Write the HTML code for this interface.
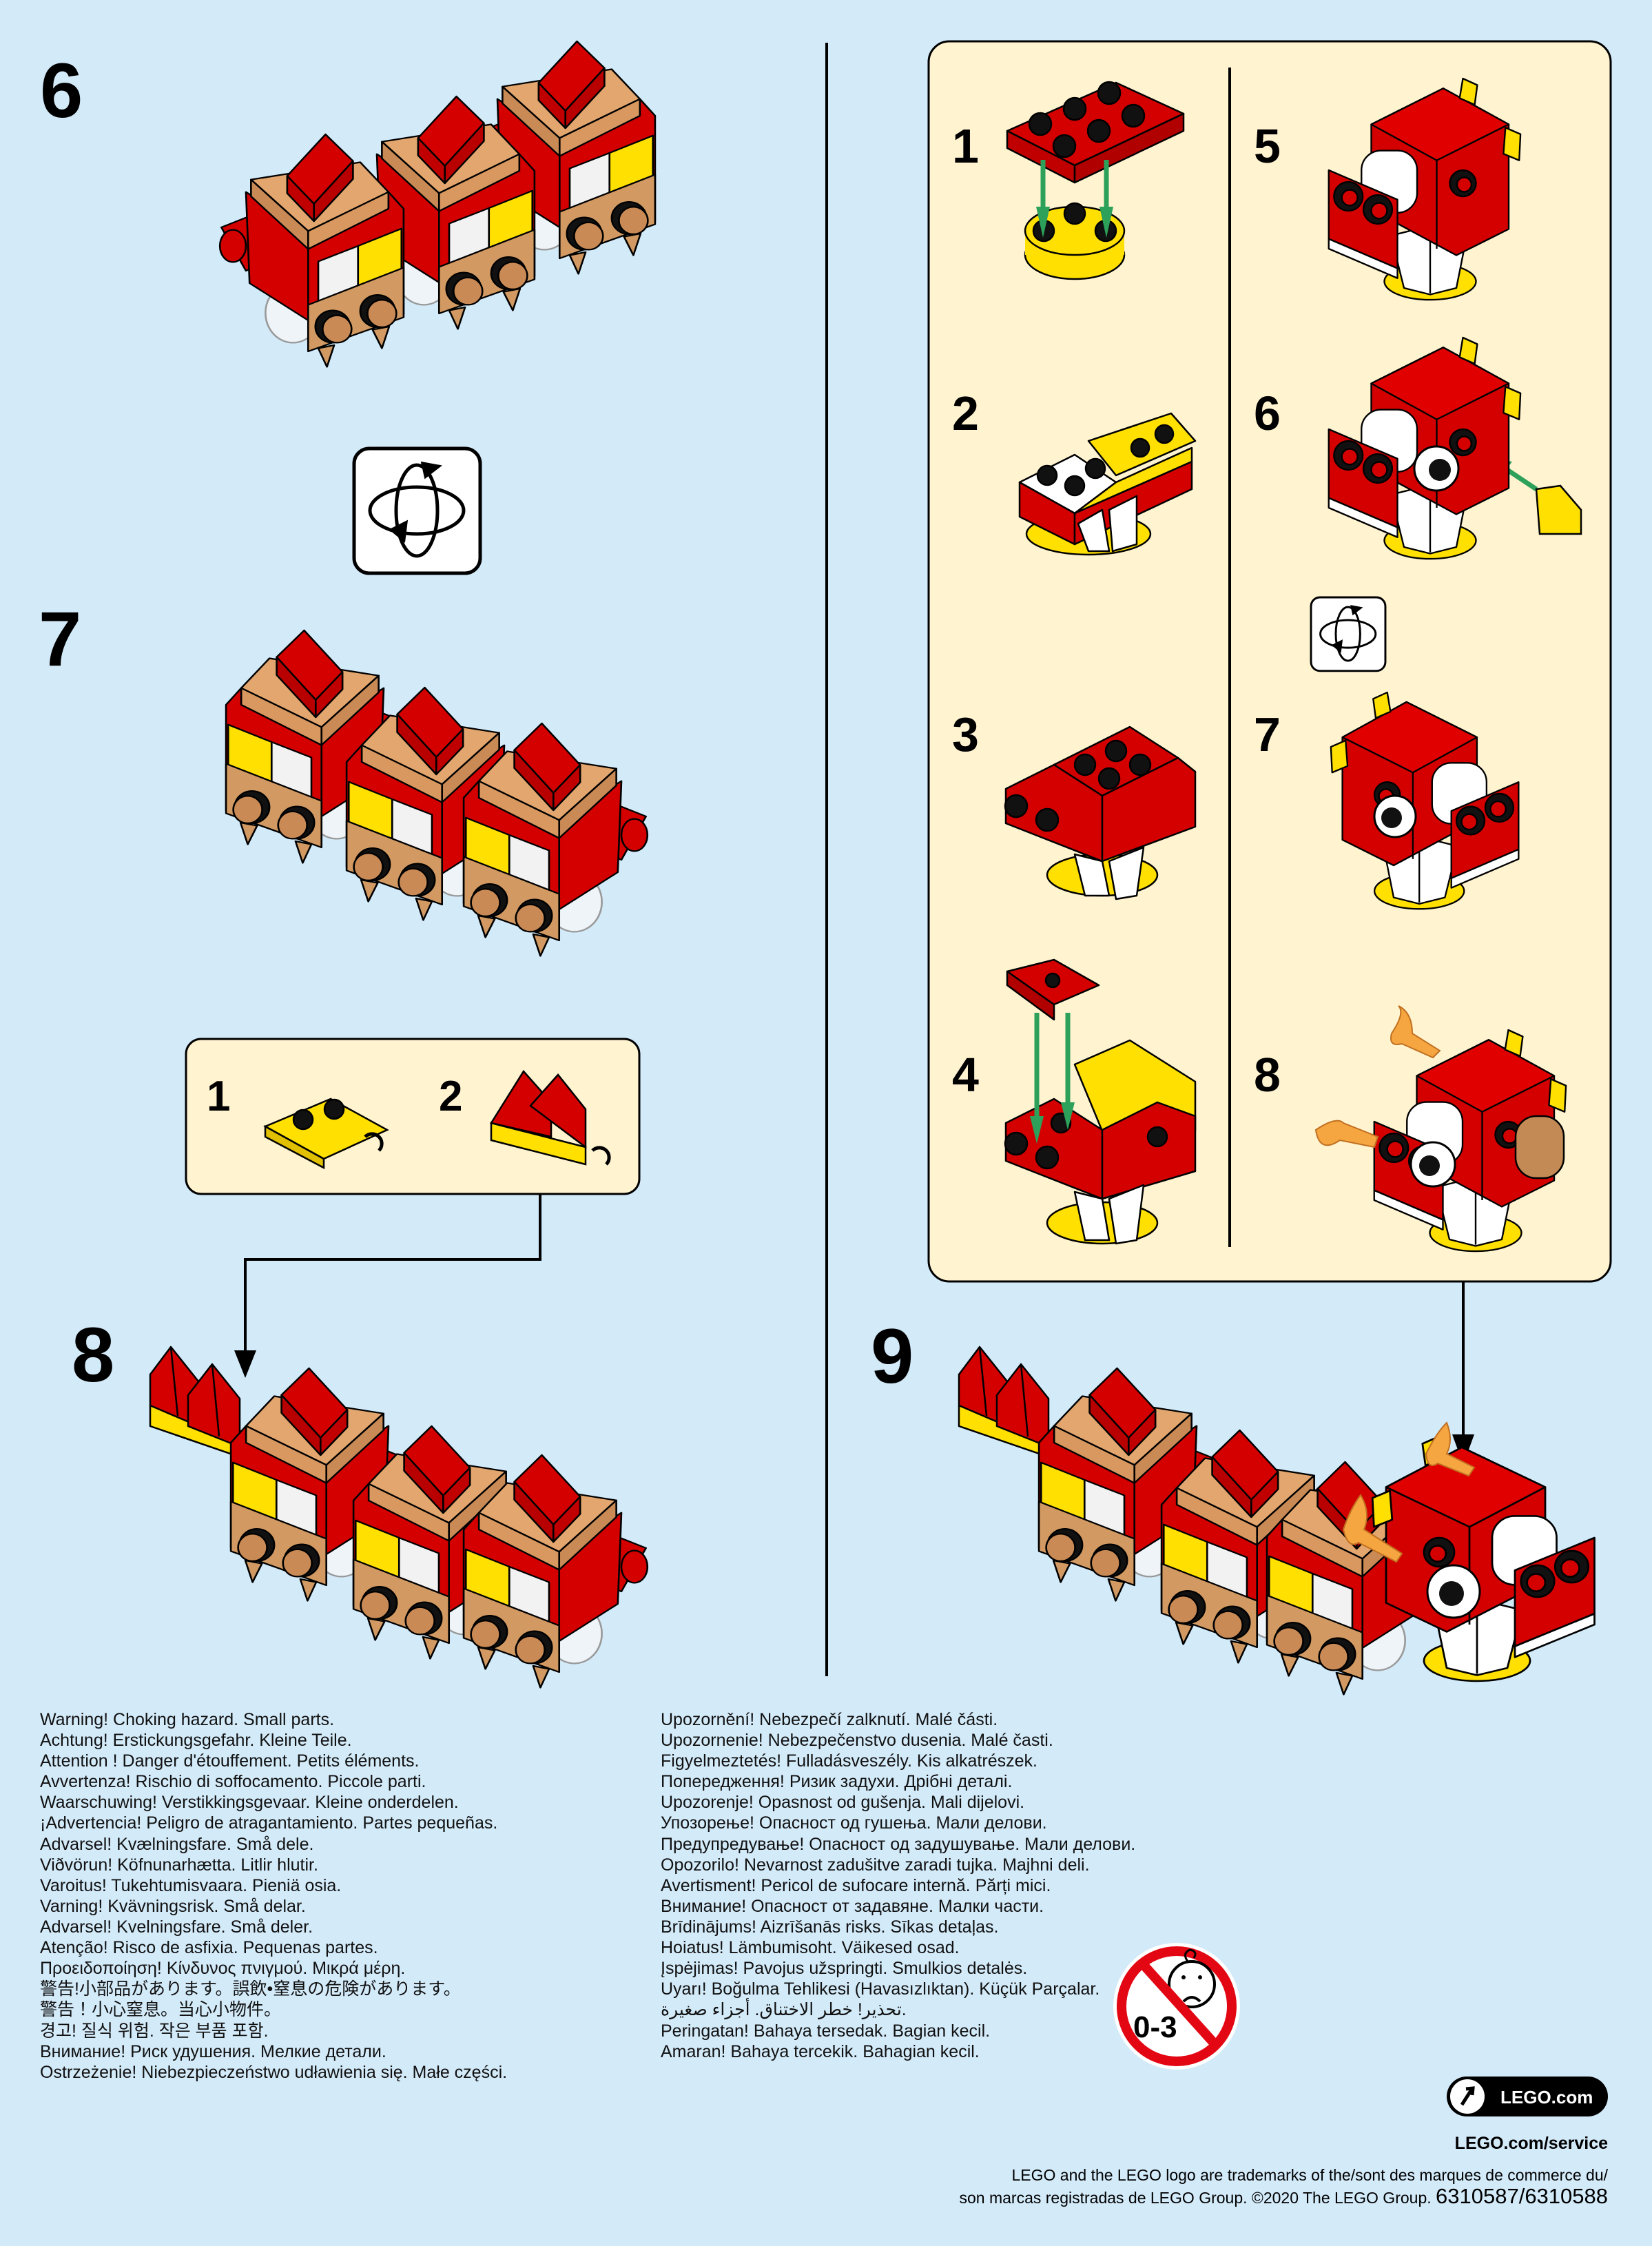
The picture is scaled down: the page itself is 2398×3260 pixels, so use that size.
<!DOCTYPE html>
<html><head><meta charset="utf-8">
<style>
html,body{margin:0;padding:0;background:#d3eaf9;}
svg{display:block;}
text{font-family:"Liberation Sans","Noto Sans CJK JP",sans-serif;}
.n{font-weight:bold;fill:#000;}
.w{font-size:25px;fill:#111;}
</style></head>
<body>
<svg width="2398" height="3260" viewBox="0 0 2398 3260" xmlns="http://www.w3.org/2000/svg">
<defs>
<g id="seg" stroke="#000" stroke-width="2.5" stroke-linejoin="round">
  <ellipse cx="105" cy="288" rx="38" ry="48" fill="#eef4f8" stroke="#999"/>
  <polygon points="6,150 60,125 100,190 40,220" fill="#d40000"/>
  <ellipse cx="22" cy="180" rx="18" ry="26" fill="#d40000"/>
  <ellipse cx="88" cy="210" rx="18" ry="26" fill="#d40000"/>
  <polygon points="40,93 126,156 126,300 45,240" fill="#d40000"/>
  <polygon points="126,156 237,93 258,120 258,290 126,348" fill="#d40000"/>
  <polygon points="47,73 198,45 237,93 126,156" fill="#e2a66e"/>
  <polygon points="47,73 126,156 126,185 47,100" fill="#c98a55"/>
  <polygon points="126,156 237,93 237,120 126,185" fill="#d9985f"/>
  <polygon points="97,67 150,0 188,43 134,112" fill="#d40000"/>
  <polygon points="134,112 188,43 188,72 134,140" fill="#b80000"/>
  <polygon points="97,67 134,112 134,140 97,95" fill="#c00000"/>
  <polygon points="140,205 195,180 195,255 140,280" fill="#f2f2f2"/>
  <path d="M195,180 L255,152 L255,225 Q225,250 195,255 Z" fill="#ffe000"/>
  <polygon points="126,275 258,215 258,295 126,350" fill="#d29a62"/>
  <ellipse cx="160" cy="310" rx="24" ry="26" fill="#111"/>
  <ellipse cx="166" cy="314" rx="20" ry="22" fill="#c98a55"/>
  <ellipse cx="222" cy="285" rx="24" ry="26" fill="#111"/>
  <ellipse cx="228" cy="289" rx="20" ry="22" fill="#c98a55"/>
  <polygon points="140,345 152,375 162,340" fill="#d29a62"/>
  <polygon points="215,315 228,345 238,310" fill="#d29a62"/>
</g>
<g id="head" stroke="#000" stroke-width="2.5" stroke-linejoin="round">
  <ellipse cx="160" cy="310" rx="70" ry="28" fill="#ffe000"/>
  <polygon points="100,240 160,225 215,245 200,320 160,330 120,320" fill="#fff"/>
  <line x1="160" y1="228" x2="160" y2="328"/>
  <polygon points="70,70 180,15 280,70 280,230 200,270 70,200" fill="#d40000"/>
  <polygon points="70,70 180,15 280,70 170,125" fill="#e00000"/>
  <line x1="170" y1="125" x2="170" y2="260"/>
  <polygon points="210,0 232,10 228,40 205,30" fill="#ffe000"/>
  <polygon points="275,75 298,85 296,125 272,115" fill="#ffe000"/>
  <rect x="55" y="110" width="85" height="95" rx="30" fill="#fff"/>
  <polygon points="5,140 110,185 110,290 5,245" fill="#d40000"/>
  <polygon points="5,245 110,290 110,305 5,260" fill="#fff"/>
  <circle cx="35" cy="180" r="22" fill="#111"/><circle cx="37" cy="182" r="12" fill="#d40000"/>
  <circle cx="80" cy="200" r="22" fill="#111"/><circle cx="82" cy="202" r="12" fill="#d40000"/>
  <circle cx="210" cy="160" r="20" fill="#111"/><circle cx="212" cy="162" r="11" fill="#d40000"/>
</g>
<g id="rot" fill="none" stroke="#000" stroke-width="5">
  <rect x="0" y="0" width="183" height="181" rx="22" fill="#fff" stroke-width="5"/>
  <ellipse cx="91" cy="90" rx="68" ry="34"/>
  <ellipse cx="91" cy="90" rx="30" ry="66"/>
  <polygon points="55,118 75,108 72,132" fill="#000"/>
  <polygon points="100,22 122,26 104,40" fill="#000"/>
</g>
<g id="tail" stroke="#000" stroke-width="2.5" stroke-linejoin="round">
  <polygon points="0,85 160,140 160,170 0,115" fill="#ffe000"/>
  <polygon points="0,40 30,0 70,50 70,115 0,85" fill="#d40000"/>
  <polygon points="55,70 90,25 130,75 130,145 55,115" fill="#d40000"/>
  <line x1="30" y1="0" x2="40" y2="100"/><line x1="90" y1="25" x2="100" y2="130"/>
</g>
</defs>

<line x1="1200" y1="62" x2="1200" y2="2433" stroke="#000" stroke-width="4"/>

<text x="58" y="170" class="n" font-size="112">6</text>
<text x="56" y="966" class="n" font-size="112">7</text>
<text x="104" y="2005" class="n" font-size="112">8</text>
<text x="1264" y="2007" class="n" font-size="112">9</text>

<!-- step 6 -->
<use href="#seg" transform="translate(680,60) scale(1.05,0.9)"/>
<use href="#seg" transform="translate(505,140) scale(1.05,0.9)"/>
<use href="#seg" transform="translate(315,195) scale(1.05,0.9)"/>

<use href="#rot" transform="translate(514,651)"/>

<!-- step 7 -->
<use href="#seg" transform="translate(599,915) scale(-1.05,0.9)"/>
<use href="#seg" transform="translate(774,998) scale(-1.05,0.9)"/>
<use href="#seg" transform="translate(944,1050) scale(-1.05,0.9)"/>

<rect x="270" y="1508" width="658" height="225" rx="22" fill="#fff3d0" stroke="#000" stroke-width="3"/>
<text x="300" y="1612" class="n" font-size="62">1</text>
<text x="637" y="1612" class="n" font-size="62">2</text>
<g stroke="#000" stroke-width="2.5">
  <polygon points="385,1635 480,1595 562,1640 470,1682" fill="#ffe000"/>
  <polygon points="385,1635 470,1682 470,1695 385,1650" fill="#e0c000"/>
  <circle cx="440" cy="1625" r="14" fill="#111"/><circle cx="485" cy="1610" r="14" fill="#111"/>
  <path d="M530,1650 a14,14 0 1 1 20,20" fill="none" stroke-width="5"/>
  <polygon points="713,1630 760,1555 800,1600 800,1650" fill="#d40000"/>
  <polygon points="770,1605 810,1560 850,1610 850,1665" fill="#d40000"/>
  <polygon points="713,1630 850,1665 850,1690 713,1655" fill="#ffe000"/>
  <path d="M860,1670 a14,14 0 1 1 20,20" fill="none" stroke-width="5"/>
</g>
<polyline points="784,1733 784,1828 356,1828 356,1975" fill="none" stroke="#000" stroke-width="4"/>
<polygon points="340,1960 372,1960 356,2000" fill="#000"/>

<!-- step 8 -->
<use href="#tail" transform="translate(218,1955)"/>
<use href="#seg" transform="translate(606,1986) scale(-1.05,0.9)"/>
<use href="#seg" transform="translate(784,2070) scale(-1.05,0.9)"/>
<use href="#seg" transform="translate(944,2112) scale(-1.05,0.9)"/>

<rect x="1348" y="60" width="990" height="1800" rx="30" fill="#fff3d0" stroke="#000" stroke-width="3"/>
<line x1="1785" y1="98" x2="1785" y2="1810" stroke="#000" stroke-width="4"/>
<g class="n" font-size="70">
<text x="1382" y="236">1</text><text x="1382" y="624">2</text><text x="1382" y="1090">3</text><text x="1382" y="1584">4</text>
<text x="1820" y="236">5</text><text x="1820" y="624">6</text><text x="1820" y="1090">7</text><text x="1820" y="1584">8</text>
</g>
<g stroke="#000" stroke-width="2.5" stroke-linejoin="round">
  <polygon points="1462,190 1620,120 1718,165 1560,240" fill="#d40000"/>
  <polygon points="1462,190 1560,240 1560,265 1462,215" fill="#c00000"/>
  <polygon points="1560,240 1718,165 1718,190 1560,265" fill="#b00000"/>
  <circle cx="1510" cy="180" r="16" fill="#111"/><circle cx="1560" cy="158" r="16" fill="#111"/><circle cx="1610" cy="135" r="16" fill="#111"/>
  <circle cx="1545" cy="212" r="16" fill="#111"/><circle cx="1595" cy="190" r="16" fill="#111"/><circle cx="1645" cy="168" r="16" fill="#111"/>
  <ellipse cx="1560" cy="370" rx="72" ry="35" fill="#ffe000"/>
  <rect x="1488" y="335" width="144" height="35" fill="#ffe000" stroke="none"/>
  <ellipse cx="1560" cy="335" rx="72" ry="35" fill="#ffe000"/>
  <circle cx="1515" cy="335" r="15" fill="#111"/><circle cx="1605" cy="335" r="15" fill="#111"/><circle cx="1560" cy="310" r="15" fill="#111"/>
  <ellipse cx="1580" cy="775" rx="90" ry="30" fill="#ffe000"/>
  <polygon points="1480,700 1560,660 1620,700 1560,745" fill="#fff"/>
  <polygon points="1480,700 1560,745 1560,790 1480,750" fill="#d40000"/>
  <polygon points="1560,745 1730,670 1730,710 1560,790" fill="#d40000"/>
  <polygon points="1560,745 1620,700 1730,650 1730,670" fill="#ffe000"/>
  <polygon points="1580,640 1700,600 1735,640 1620,690" fill="#ffe000"/>
  <circle cx="1520" cy="690" r="14" fill="#111"/><circle cx="1560" cy="705" r="14" fill="#111"/><circle cx="1590" cy="680" r="14" fill="#111"/>
  <circle cx="1655" cy="650" r="13" fill="#111"/><circle cx="1690" cy="630" r="13" fill="#111"/>
  <polygon points="1565,760 1600,740 1610,800 1580,800" fill="#fff"/>
  <polygon points="1610,740 1650,720 1650,790 1615,800" fill="#fff"/>
  <ellipse cx="1600" cy="1270" rx="80" ry="30" fill="#ffe000"/>
  <polygon points="1530,1110 1640,1055 1710,1100 1600,1155" fill="#d40000"/>
  <polygon points="1460,1145 1530,1110 1600,1155 1600,1250 1460,1195" fill="#d40000"/>
  <polygon points="1600,1155 1710,1100 1735,1120 1735,1200 1600,1250" fill="#d40000"/>
  <circle cx="1575" cy="1110" r="15" fill="#111"/><circle cx="1620" cy="1090" r="15" fill="#111"/><circle cx="1610" cy="1130" r="15" fill="#111"/><circle cx="1655" cy="1110" r="15" fill="#111"/>
  <circle cx="1475" cy="1170" r="16" fill="#111"/><circle cx="1520" cy="1190" r="16" fill="#111"/>
  <polygon points="1560,1240 1600,1250 1610,1300 1575,1300" fill="#fff"/>
  <polygon points="1610,1250 1660,1230 1650,1300 1620,1305" fill="#fff"/>
  <polygon points="1462,1410 1530,1393 1595,1430 1530,1458" fill="#d40000"/>
  <polygon points="1462,1410 1530,1458 1530,1480 1462,1430" fill="#b00000"/>
  <circle cx="1528" cy="1423" r="10" fill="#111"/>
  <ellipse cx="1600" cy="1775" rx="80" ry="30" fill="#ffe000"/>
  <polygon points="1560,1545 1640,1510 1735,1570 1735,1640 1620,1690" fill="#ffe000"/>
  <polygon points="1460,1630 1530,1595 1600,1640 1600,1740 1460,1685" fill="#d40000"/>
  <polygon points="1600,1640 1680,1600 1735,1620 1735,1700 1600,1740" fill="#d40000"/>
  <circle cx="1475" cy="1660" r="16" fill="#111"/><circle cx="1520" cy="1680" r="16" fill="#111"/>
  <circle cx="1540" cy="1630" r="14" fill="#111"/><circle cx="1680" cy="1650" r="14" fill="#111"/>
  <polygon points="1560,1730 1600,1740 1610,1800 1575,1800" fill="#fff"/>
  <polygon points="1610,1740 1660,1720 1650,1800 1620,1805" fill="#fff"/>
</g>
<g stroke="#2da05a" stroke-width="7" fill="#2da05a">
  <line x1="1514" y1="232" x2="1514" y2="300"/><polygon points="1504,300 1524,300 1514,345" stroke="none"/>
  <line x1="1606" y1="232" x2="1606" y2="300"/><polygon points="1596,300 1616,300 1606,345" stroke="none"/>
  <line x1="1505" y1="1470" x2="1505" y2="1620"/><polygon points="1495,1620 1515,1620 1505,1660" stroke="none"/>
  <line x1="1550" y1="1470" x2="1550" y2="1600"/><polygon points="1540,1600 1560,1600 1550,1640" stroke="none"/>
  <line x1="2230" y1="710" x2="2185" y2="680"/><polygon points="2195,670 2180,690 2160,665" stroke="none"/>
</g>
<use href="#head" transform="translate(1924,114) scale(0.95)"/>
<use href="#head" transform="translate(1924,490) scale(0.95)"/>
<circle cx="2085" cy="680" r="32" fill="#fff" stroke="#000" stroke-width="3"/><circle cx="2090" cy="682" r="16" fill="#111"/>
<polygon points="2230,710 2265,705 2295,740 2295,775 2235,775" fill="#ffe000" stroke="#000" stroke-width="2.5"/>
<use href="#rot" transform="translate(1903,867) scale(0.59)"/>
<use href="#head" transform="translate(2209,1005) scale(-0.93,0.93)"/>
<circle cx="2025" cy="1185" r="30" fill="#fff" stroke="#000" stroke-width="3"/><circle cx="2020" cy="1187" r="15" fill="#111"/>
<use href="#head" transform="translate(1990,1495) scale(0.95)"/>
<g fill="#f6a640" stroke="#c07020" stroke-width="2">
  <path d="M2020,1500 q20,-30 10,-40 q20,10 20,40 l40,25 l-10,10 l-45,-20 q-20,5 -15,-15z"/>
  <path d="M1910,1640 q30,-20 40,-10 l50,20 l-5,15 l-50,-10 q-30,20 -35,-15z"/>
</g>
<rect x="2200" y="1620" width="70" height="90" rx="30" fill="#c48a55" stroke="#000" stroke-width="2.5"/>
<circle cx="2080" cy="1690" r="32" fill="#fff" stroke="#000" stroke-width="3"/><circle cx="2075" cy="1692" r="15" fill="#111"/>

<line x1="2124" y1="1860" x2="2124" y2="2090" stroke="#000" stroke-width="4"/>
<polygon points="2108,2082 2140,2082 2124,2126" fill="#000"/>

<!-- step 9 -->
<use href="#tail" transform="translate(1392,1955)"/>
<use href="#seg" transform="translate(1779,1986) scale(-1.05,0.9)"/>
<use href="#seg" transform="translate(1957,2076) scale(-1.05,0.9)"/>
<use href="#seg" transform="translate(2110,2122) scale(-1.05,0.9)"/>
<use href="#head" transform="translate(2320,2085) scale(-1.1,1.05)"/>
<g fill="#f6a640" stroke="#c07020" stroke-width="2">
  <path d="M2070,2110 q15,-30 30,-45 q10,25 0,45 l40,20 l-8,12 l-45,-18 q-15,10 -17,-14z"/>
  <path d="M1950,2220 q10,-30 25,-50 q15,25 5,50 l55,35 l-8,12 l-55,-28 q-15,10 -22,-19z"/>
</g>
<circle cx="2110" cy="2310" r="38" fill="#fff" stroke="#000" stroke-width="3"/><circle cx="2107" cy="2313" r="18" fill="#111"/>

<g class="w">
<text x="58" y="2504">Warning! Choking hazard. Small parts.</text>
<text x="58" y="2534">Achtung! Erstickungsgefahr. Kleine Teile.</text>
<text x="58" y="2564">Attention ! Danger d'étouffement. Petits éléments.</text>
<text x="58" y="2594">Avvertenza! Rischio di soffocamento. Piccole parti.</text>
<text x="58" y="2624">Waarschuwing! Verstikkingsgevaar. Kleine onderdelen.</text>
<text x="58" y="2654">¡Advertencia! Peligro de atragantamiento. Partes pequeñas.</text>
<text x="58" y="2685">Advarsel! Kvælningsfare. Små dele.</text>
<text x="58" y="2715">Viðvörun! Köfnunarhætta. Litlir hlutir.</text>
<text x="58" y="2745">Varoitus! Tukehtumisvaara. Pieniä osia.</text>
<text x="58" y="2775">Varning! Kvävningsrisk. Små delar.</text>
<text x="58" y="2805">Advarsel! Kvelningsfare. Små deler.</text>
<text x="58" y="2835">Atenção! Risco de asfixia. Pequenas partes.</text>
<text x="58" y="2865">Προειδοποίηση! Κίνδυνος πνιγμού. Μικρά μέρη.</text>
<text x="58" y="2895">警告!小部品があります。誤飲•窒息の危険があります。</text>
<text x="58" y="2925">警告！小心窒息。当心小物件。</text>
<text x="58" y="2956">경고! 질식 위험. 작은 부품 포함.</text>
<text x="58" y="2986">Внимание! Риск удушения. Мелкие детали.</text>
<text x="58" y="3016">Ostrzeżenie! Niebezpieczeństwo udławienia się. Małe części.</text>

<text x="959" y="2504">Upozornění! Nebezpečí zalknutí. Malé části.</text>
<text x="959" y="2534">Upozornenie! Nebezpečenstvo dusenia. Malé časti.</text>
<text x="959" y="2564">Figyelmeztetés! Fulladásveszély. Kis alkatrészek.</text>
<text x="959" y="2594">Попередження! Ризик задухи. Дрібні деталі.</text>
<text x="959" y="2624">Upozorenje! Opasnost od gušenja. Mali dijelovi.</text>
<text x="959" y="2654">Упозорење! Опасност од гушења. Мали делови.</text>
<text x="959" y="2685">Предупредување! Опасност од задушување. Мали делови.</text>
<text x="959" y="2715">Opozorilo! Nevarnost zadušitve zaradi tujka. Majhni deli.</text>
<text x="959" y="2745">Avertisment! Pericol de sufocare internă. Părți mici.</text>
<text x="959" y="2775">Внимание! Опасност от задавяне. Малки части.</text>
<text x="959" y="2805">Brīdinājums! Aizrīšanās risks. Sīkas detaļas.</text>
<text x="959" y="2835">Hoiatus! Lämbumisoht. Väikesed osad.</text>
<text x="959" y="2865">Įspėjimas! Pavojus užspringti. Smulkios detalės.</text>
<text x="959" y="2895">Uyarı! Boğulma Tehlikesi (Havasızlıktan). Küçük Parçalar.</text>
<text x="959" y="2925">تحذير! خطر الاختناق. أجزاء صغيرة.</text>
<text x="959" y="2956">Peringatan! Bahaya tersedak. Bagian kecil.</text>
<text x="959" y="2986">Amaran! Bahaya tercekik. Bahagian kecil.</text>
</g>

<circle cx="1708" cy="2912" r="92" fill="#fff"/>
<circle cx="1708" cy="2912" r="80" fill="none" stroke="#e30613" stroke-width="14"/>
<circle cx="1730" cy="2880" r="33" fill="none" stroke="#000" stroke-width="4"/>
<path d="M1725,2848 q-10,-12 2,-18 q12,2 6,12" fill="none" stroke="#000" stroke-width="3"/>
<path d="M1718,2905 q12,-12 24,0" fill="none" stroke="#000" stroke-width="4"/>
<circle cx="1718" cy="2870" r="3" fill="#000"/><circle cx="1742" cy="2870" r="3" fill="#000"/>
<text x="1645" y="2957" class="n" font-size="44">0-3</text>
<line x1="1660" y1="2852" x2="1768" y2="2972" stroke="#e30613" stroke-width="14"/>

<rect x="2100" y="3014" width="234" height="58" rx="29" fill="#000"/>
<circle cx="2130" cy="3043" r="25" fill="#fff"/>
<path d="M2122,3055 L2136,3033 M2128,3032 L2138,3031 L2137,3041" fill="none" stroke="#000" stroke-width="5"/>
<text x="2178" y="3053" font-size="26" font-weight="bold" fill="#fff">LEGO.com</text>
<text x="2334" y="3119" font-size="25" font-weight="bold" fill="#000" text-anchor="end">LEGO.com/service</text>
<text x="2334" y="3165" font-size="23" fill="#000" text-anchor="end">LEGO and the LEGO logo are trademarks of the/sont des marques de commerce du/</text>
<text x="2334" y="3198" font-size="23" fill="#000" text-anchor="end">son marcas registradas de LEGO Group. ©2020 The LEGO Group. <tspan font-size="31">6310587/6310588</tspan></text>
</svg>
</body></html>
